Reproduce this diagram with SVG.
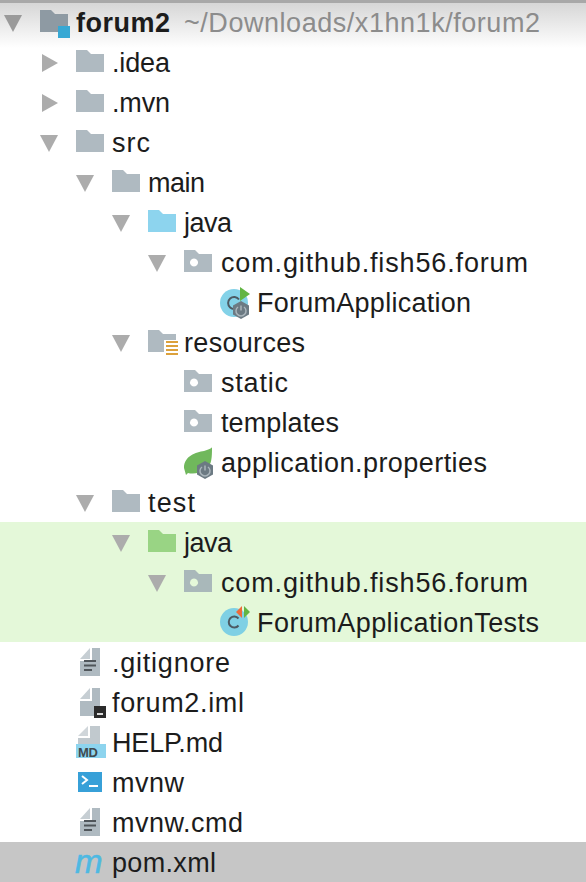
<svg xmlns="http://www.w3.org/2000/svg" width="586" height="882" viewBox="0 0 586 882">
<style>
text{font-family:"Liberation Sans",Arial,sans-serif;font-size:27px;fill:#1c1c1c}
.f{fill:#afbac1}
.a{fill:#acacac}
</style>
<defs>
<linearGradient id="sh" x1="0" y1="0" x2="0" y2="1"><stop offset="0" stop-color="#d6d6d6"/><stop offset="1" stop-color="#fff"/></linearGradient>
<path id="folder" d="M0 0h11l4 4h13v18H0z"/>
<path id="pkg" fill-rule="evenodd" d="M0 0h11l4 4h13v18H0zM10 8.500a4 4 0 1 0 .01 0z"/>
<polygon id="down" points="0,0 18,0 9,17"/>
<polygon id="right" points="0,0 16,9 0,18"/>
<g id="file"><path d="M12 0h8v28H0V13h12z" fill="#afbac1"/><path d="M10 0v11H0z" fill="#c6ced3"/></g>
<path id="lines" d="M4 12h12v2H4zM4 16.500h12v2H4zM4 21h8v2H4z" fill="#50565b"/>
<g id="power"><polygon points="9,0 17,4.500 17,13.500 9,18 1,13.500 1,4.500" fill="#6c7a83"/><path d="M6 6a5 5 0 1 0 6 0M9 4.500v5" fill="none" stroke="#aab5bb" stroke-width="1.500"/></g>
</defs>
<rect width="586" height="882" fill="#fff"/>
<rect y="3" width="586" height="45" fill="url(#sh)"/>
<rect width="586" height="3" fill="#a8a8a8"/>
<rect y="522" width="586" height="120" fill="#e4f8d9"/>
<rect y="842" width="586" height="40" fill="#c6c6c6"/>
<g id="connectors"/>
<g id="n-forum2"><use href="#down" x="4" y="15" fill="#9a9a9a"/><path d="M40 10h11l4 4h13v18H40z" fill="#8e9aa3"/><rect x="58" y="26" width="12" height="12" fill="#37a8d4"/><text x="76" y="32" font-weight="700" textLength="94">forum2</text><text x="184" y="32" style="fill:#8c8c8c" textLength="356">~/Downloads/x1hn1k/forum2</text></g>
<g id="n-idea"><use href="#right" x="42" y="54" class="a"/><use href="#folder" x="76" y="50" class="f"/><text x="112" y="72" textLength="58">.idea</text></g>
<g id="n-mvn"><use href="#right" x="42" y="94" class="a"/><use href="#folder" x="76" y="90" class="f"/><text x="112" y="112" textLength="58">.mvn</text></g>
<g id="n-src"><use href="#down" x="40" y="135" class="a"/><use href="#folder" x="76" y="130" class="f"/><text x="112" y="152" textLength="38">src</text></g>
<g id="n-main"><use href="#down" x="76" y="175" class="a"/><use href="#folder" x="112" y="170" class="f"/><text x="148" y="192" textLength="57">main</text></g>
<g id="n-java"><use href="#down" x="112" y="215" class="a"/><use href="#folder" x="148" y="210" fill="#8dd4ee"/><text x="184" y="232" textLength="48">java</text></g>
<g id="n-pkg1"><use href="#down" x="148" y="255" class="a"/><use href="#pkg" x="184" y="250" class="f"/><text x="221" y="272" textLength="307">com.github.fish56.forum</text></g>
<g id="n-app"><circle cx="234" cy="303" r="14" fill="#84d2e8"/><path d="M239 299.500a6 6 0 1 0 0 7" fill="none" stroke="#4c5a63" stroke-width="2"/><polygon points="240,287 250,294 240,301" fill="#62b543"/><use href="#power" x="232" y="301"/><text x="257" y="312" textLength="214">ForumApplication</text></g>
<g id="n-res"><use href="#down" x="112" y="335" class="a"/><path d="M148 330h11l4 4h13v18h-28z" class="f"/><rect x="164" y="340" width="14" height="16" fill="#fff"/><path d="M166 341h12v2h-12zM166 345h12v2h-12zM166 349h12v2h-12zM166 353h12v2h-12z" fill="#dca13c"/><text x="184" y="352" textLength="121">resources</text></g>
<g id="n-static"><use href="#pkg" x="184" y="370" class="f"/><text x="221" y="392" textLength="67">static</text></g>
<g id="n-templates"><use href="#pkg" x="184" y="410" class="f"/><text x="221" y="432" textLength="118">templates</text></g>
<g id="n-props"><path d="M184 468c0-12 12-16 20-17 4-1 8-3 8-4 0 10 0 18-6 22-6 5-14 5-18 4l-2 2z" fill="#70b85c"/><use href="#power" x="196" y="461"/><text x="221" y="472" textLength="266">application.properties</text></g>
<g id="n-test"><use href="#down" x="76" y="495" class="a"/><use href="#folder" x="112" y="490" class="f"/><text x="148" y="512" textLength="47">test</text></g>
<g id="n-java2"><use href="#down" x="112" y="535" class="a"/><use href="#folder" x="148" y="530" fill="#99d484"/><text x="184" y="552" textLength="48">java</text></g>
<g id="n-pkg2"><use href="#down" x="148" y="575" class="a"/><use href="#pkg" x="184" y="570" style="fill:#a9b8ba"/><text x="221" y="592" textLength="307">com.github.fish56.forum</text></g>
<g id="n-tests"><circle cx="234" cy="622" r="14" fill="#7fd0e4"/><path d="M238.500 618.500a5.500 5.500 0 1 0 0 7" fill="none" stroke="#4c5a63" stroke-width="2"/><polygon points="244,606 250,612 244,618" fill="#62b543"/><polygon points="242,606 236,612 242,618" fill="#ed6b3a"/><text x="257" y="632" textLength="282">ForumApplicationTests</text></g>
<g id="n-gitignore"><use href="#file" x="80" y="648"/><use href="#lines" x="80" y="648"/><text x="112" y="672" textLength="118">.gitignore</text></g>
<g id="n-iml"><use href="#file" x="80" y="688"/><rect x="94" y="706" width="12" height="12" fill="#2b2b2b"/><rect x="97" y="713" width="6" height="2" fill="#ddd"/><text x="112" y="712" textLength="132">forum2.iml</text></g>
<g id="n-help"><path d="M90 726h10v18H78v-6h12z" fill="#c1c9ce"/><path d="M88 726v10H78z" fill="#d0d6da"/><rect x="76" y="744" width="30" height="14" fill="#8dd4ee"/><text x="78" y="757" textLength="20" style="font-size:13px;font-weight:700;fill:#3f4a50">MD</text><text x="112" y="752" textLength="111">HELP.md</text></g>
<g id="n-mvnw"><rect x="78" y="772" width="24" height="20" fill="#37a0d8"/><path d="M82 776l5 4-5 4" fill="none" stroke="#fff" stroke-width="2"/><rect x="89" y="785" width="9" height="2" fill="#fff"/><text x="112" y="792" textLength="72">mvnw</text></g>
<g id="n-cmd"><use href="#file" x="80" y="808"/><use href="#lines" x="80" y="808"/><text x="112" y="832" textLength="131">mvnw.cmd</text></g>
<g id="n-pom"><text x="75" y="873" textLength="29" style="font-size:33px;font-style:italic;fill:#4eb9e2;stroke:#4eb9e2;stroke-width:.6">m</text><text x="112" y="872" textLength="104">pom.xml</text></g>
</svg>
